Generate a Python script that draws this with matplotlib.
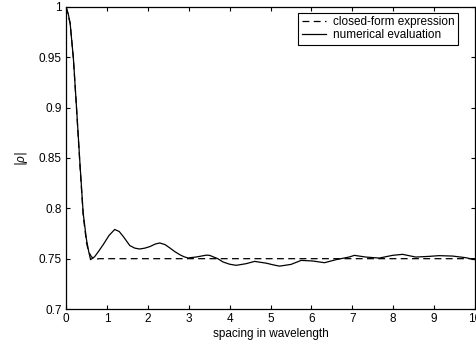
import numpy as np
import matplotlib.pyplot as plt

plt.rcParams['font.family'] = ['Liberation Sans', 'DejaVu Sans']
plt.rcParams['mathtext.fontset'] = 'custom'
plt.rcParams['mathtext.it'] = 'Liberation Sans:italic'

# numerical evaluation of |rho| versus element spacing
spacing_num = [0.0, 0.05, 0.1, 0.18, 0.26, 0.34, 0.42, 0.5, 0.55, 0.6, 0.7, 0.8, 0.91,
               1.05, 1.19, 1.3, 1.4, 1.56, 1.68, 1.8, 1.93, 2.05, 2.18, 2.29, 2.42,
               2.54, 2.66, 2.78, 2.88, 2.98, 3.19, 3.43, 3.51, 3.71, 3.84, 4.0, 4.16,
               4.4, 4.61, 4.9, 5.05, 5.22, 5.5, 5.75, 6.03, 6.32, 6.6, 6.93, 7.05,
               7.33, 7.66, 7.98, 8.23, 8.55, 8.88, 9.12, 9.45, 9.77, 10.0]
rho_num = [1.0, 0.994, 0.984, 0.949, 0.898, 0.845, 0.795, 0.769, 0.758, 0.749, 0.752,
           0.7575, 0.764, 0.773, 0.779, 0.777, 0.772, 0.763, 0.7605, 0.7596, 0.7605,
           0.762, 0.7645, 0.7656, 0.764, 0.7606, 0.757, 0.754, 0.752, 0.7507, 0.7517,
           0.7535, 0.7533, 0.75, 0.7467, 0.7445, 0.7434, 0.745, 0.7473, 0.7455,
           0.744, 0.7426, 0.7443, 0.7483, 0.7477, 0.746, 0.749, 0.7517, 0.7533,
           0.7516, 0.7506, 0.7533, 0.7543, 0.7516, 0.7523, 0.753, 0.7526, 0.751, 0.749]

# closed-form expression
spacing_cf = [0.0, 0.1, 0.18, 0.26, 0.34, 0.42, 0.5, 0.55, 0.62, 0.7, 0.8, 10.0]
rho_cf = [1.0, 0.984, 0.949, 0.897, 0.843, 0.793, 0.766, 0.757, 0.752, 0.749, 0.75, 0.75]

fig = plt.figure(figsize=(4.76, 3.44), dpi=100)
ax = fig.add_axes([0.1387, 0.1017, 0.8593, 0.878])

ax.plot(spacing_cf, rho_cf, 'k--', lw=0.9, dashes=(5.5, 3.5), label='closed-form expression')
ax.plot(spacing_num, rho_num, 'k-', lw=0.9, label='numerical evaluation')

ax.set_xlim(0, 10)
ax.set_ylim(0.7, 1.0)
ax.set_xticks(np.arange(0, 11, 1))
ax.set_yticks([0.7, 0.75, 0.8, 0.85, 0.9, 0.95, 1.0])
ax.set_yticklabels(['0.7', '0.75', '0.8', '0.85', '0.9', '0.95', '1'])
ax.tick_params(direction='in', length=3, width=0.8, top=True, right=True,
               labelsize=8.5, pad=3)
for s in ax.spines.values():
    s.set_linewidth(0.9)

ax.set_xlabel('spacing in wavelength', fontsize=8.5, labelpad=2)
ax.set_ylabel(r'$|\rho|$', fontsize=8.5, labelpad=6)

leg = ax.legend(loc='upper right', bbox_to_anchor=(0.958, 0.981), fontsize=8.5,
                frameon=True, fancybox=False, edgecolor='black', framealpha=1,
                handlelength=2.0, borderpad=0.3, labelspacing=0.1,
                handletextpad=0.6, borderaxespad=0)
leg.get_frame().set_linewidth(0.8)

fig.savefig('out.png', dpi=100)
